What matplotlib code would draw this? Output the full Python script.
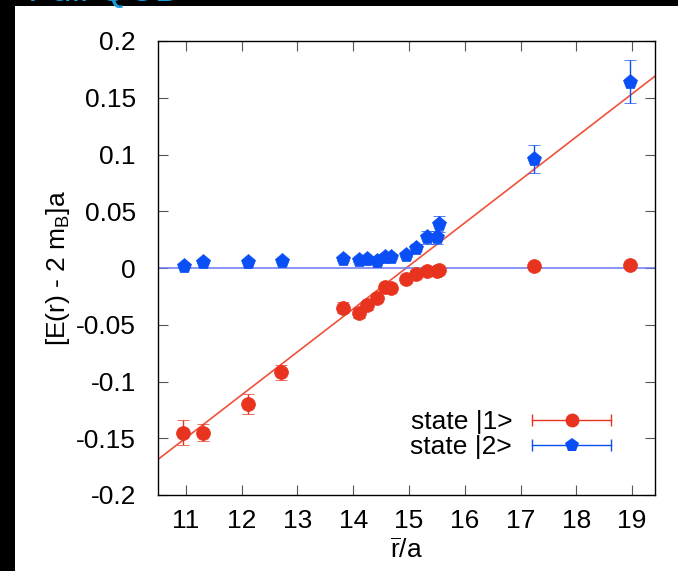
import numpy as np
import matplotlib.pyplot as plt
from matplotlib.lines import Line2D
from matplotlib.patches import Rectangle
from matplotlib.legend_handler import HandlerLine2D

plt.rcParams['font.family'] = ['Liberation Sans', 'DejaVu Sans']
plt.rcParams['mathtext.fontset'] = 'custom'
plt.rcParams['mathtext.rm'] = 'Liberation Sans'
plt.rcParams['mathtext.it'] = 'Liberation Sans'

# state |1>
r1 = [10.95, 11.30, 12.11, 12.71, 13.82, 14.10, 14.25, 14.43, 14.57, 14.68,
      14.95, 15.13, 15.32, 15.50, 15.54, 17.24, 18.96]
e1 = [-0.145, -0.145, -0.120, -0.092, -0.035, -0.040, -0.033, -0.026, -0.017, -0.018,
      -0.010, -0.005, -0.003, -0.003, -0.002, 0.002, 0.003]
err1 = [0.011, 0.0075, 0.009, 0.0066, 0.005, 0.004, 0.004, 0.004, 0.003, 0.003,
        0.003, 0.002, 0.002, 0.002, 0.002, 0.002, 0.002]

# state |2>
r2 = [10.96, 11.30, 12.11, 12.72, 13.82, 14.10, 14.25, 14.43, 14.57, 14.68,
      14.95, 15.13, 15.32, 15.50, 15.54, 17.24, 18.96]
e2 = [0.002, 0.005, 0.005, 0.006, 0.008, 0.007, 0.008, 0.006, 0.0095, 0.0095,
      0.0115, 0.018, 0.027, 0.027, 0.039, 0.096, 0.164]
err2 = [0.001, 0.001, 0.001, 0.001, 0.002, 0.002, 0.002, 0.002, 0.002, 0.002,
        0.002, 0.003, 0.0055, 0.0055, 0.007, 0.012, 0.019]

# linear string fit, crossing zero at r0
slope = 0.0379
r0 = 14.95

red = '#e8341f'
blue = '#0a4ff5'
fs = 19

fig = plt.figure(figsize=(6.78, 5.71), dpi=100, facecolor='black')
fig.patches.append(Rectangle((15 / 678, 0), 1, 1 - 6 / 571, transform=fig.transFigure,
                             facecolor='white', edgecolor='none', zorder=-10))
fig.text(28 / 678, 1 - 1 / 571, 'Full QCD', color='#1a9ad8', fontsize=27,
         va='baseline', ha='left', zorder=-5)

ax = fig.add_axes([158 / 678, 1 - 495 / 571, 497 / 678, 454 / 571])
ax.set_facecolor('white')

xs = np.array([10.5, 19.41])
ax.plot(xs, slope * (xs - r0), color='#f0503c', lw=1.2, zorder=2)
ax.axhline(0, color='#6a78f2', lw=1.1, zorder=2)

ax.errorbar(r1, e1, yerr=err1, fmt='o', color=red, ms=10, mec=red, mew=0.5,
            elinewidth=1, capsize=4, capthick=1, zorder=4)
ax.errorbar(r2, e2, yerr=err2, fmt='p', color=blue, ms=11, mec=blue, mew=0.5,
            elinewidth=1, capsize=4, capthick=1, zorder=3)

ax.set_xlim(10.5, 19.41)
ax.set_ylim(-0.2, 0.2)
ax.set_xticks(range(11, 20))
ax.set_yticks([-0.2, -0.15, -0.1, -0.05, 0, 0.05, 0.1, 0.15, 0.2])
ax.set_yticklabels(['-0.2', '-0.15', '-0.1', '-0.05', '0', '0.05', '0.1', '0.15', '0.2'])
ax.tick_params(direction='in', length=7, width=0.8, color='#555555', labelsize=fs,
               top=True, right=True)
ax.tick_params(axis='y', pad=16)
ax.tick_params(axis='x', pad=10)
for s in ax.spines.values():
    s.set_linewidth(1.0)

ax.set_xlabel(r'$\overline{\mathrm{r}}$/a', fontsize=fs, labelpad=4)
ax.set_ylabel(r'[E(r) - 2 m$_\mathrm{B}$]a', fontsize=fs, labelpad=3)

# legend entries: horizontal error bar with caps and marker in the middle
caps1 = Line2D([], [], color=red, lw=1, marker='|', ms=8, mew=1)
mark1 = Line2D([], [], color=red, lw=0, marker='o', ms=10, mew=0)
caps2 = Line2D([], [], color=blue, lw=1, marker='|', ms=8, mew=1)
mark2 = Line2D([], [], color=blue, lw=0, marker='p', ms=10, mew=0)
hmap = {caps1: HandlerLine2D(numpoints=2, marker_pad=0),
        caps2: HandlerLine2D(numpoints=2, marker_pad=0),
        mark1: HandlerLine2D(numpoints=1),
        mark2: HandlerLine2D(numpoints=1)}
ax.legend([(caps1, mark1), (caps2, mark2)], ['state |1>', 'state |2>'],
          handler_map=hmap, markerfirst=False, frameon=False, fontsize=fs,
          handlelength=3.0, handletextpad=0.75, labelspacing=0.05,
          borderaxespad=0, loc='lower right', bbox_to_anchor=(0.933, 0.055))

fig.savefig('out.png', dpi=100, facecolor='black')
